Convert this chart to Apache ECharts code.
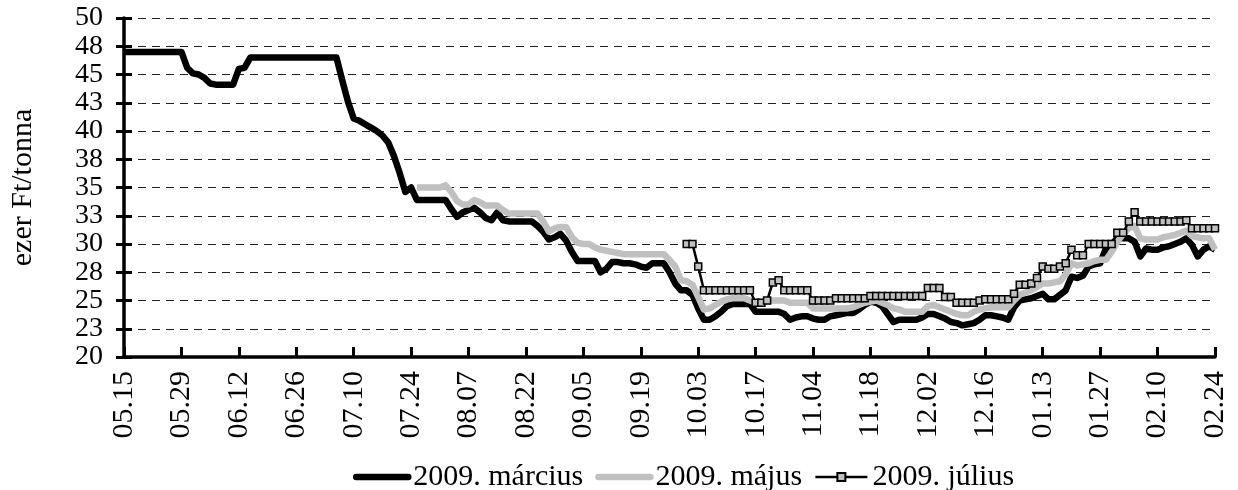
<!DOCTYPE html>
<html>
<head>
<meta charset="utf-8">
<script src="https://cdn.jsdelivr.net/npm/echarts@6/dist/echarts.min.js"></script>
<style>
  html, body { margin: 0; padding: 0; background: #fff; }
  #chart { width: 1238px; height: 490px; }
</style>
</head>
<body>
<div id="chart"></div>
<script>
// tőzsdei napok (kategóriák), minden 10. napnál felirat
const tickLabels = ["05.15", "05.29", "06.12", "06.26", "07.10", "07.24", "08.07", "08.22", "09.05", "09.19",
  "10.03", "10.17", "11.04", "11.18", "12.02", "12.16", "01.13", "01.27", "02.10", "02.24"];
const dayCount = 191;

const seriesNames = ["2009. március", "2009. május", "2009. július"];

// 2009. március (minden napra)
const marciusData = [
  47.0, 47.0, 47.0, 47.0, 47.0, 47.0, 47.0, 47.0, 47.0, 47.0,
  47.0, 45.6, 45.1, 45.0, 44.7, 44.2, 44.1, 44.1, 44.1, 44.1,
  45.5, 45.6, 46.5, 46.5, 46.5, 46.5, 46.5, 46.5, 46.5, 46.5,
  46.5, 46.5, 46.5, 46.5, 46.5, 46.5, 46.5, 46.5, 44.5, 42.6,
  41.1, 40.9, 40.6, 40.3, 40.0, 39.6, 39.0, 37.8, 36.3, 34.6,
  35.0, 33.9, 33.9, 33.9, 33.9, 33.9, 33.9, 33.1, 32.4, 32.8,
  33.0, 33.2, 32.8, 32.3, 32.1, 32.8, 32.1, 32.0, 32.0, 32.0,
  32.0, 32.0, 31.6, 31.1, 30.4, 30.6, 30.9, 30.3, 29.3, 28.5,
  28.5, 28.5, 28.5, 27.5, 27.8, 28.4, 28.4, 28.3, 28.3, 28.2,
  28.0, 27.9, 28.3, 28.3, 28.3, 27.5, 26.5, 25.9, 25.9, 25.5,
  24.3, 23.3, 23.3, 23.6, 24.0, 24.5, 24.7, 24.7, 24.7, 24.7,
  24.0, 24.0, 24.0, 24.0, 24.0, 23.8, 23.3, 23.5, 23.6, 23.6,
  23.4, 23.3, 23.3, 23.6, 23.7, 23.8, 23.9, 23.9, 24.2, 24.6,
  24.9, 24.8, 24.5, 23.8, 23.1, 23.3, 23.3, 23.3, 23.3, 23.5,
  23.8, 23.8, 23.6, 23.4, 23.1, 23.0, 22.8, 22.9, 23.0, 23.3,
  23.7, 23.7, 23.6, 23.5, 23.3, 24.4, 25.0, 25.1, 25.2, 25.4,
  25.6, 25.1, 25.1, 25.5, 25.9, 27.1, 27.0, 27.2, 28.0, 28.2,
  28.3, 29.6, 30.0, 30.5, 30.5, 30.5, 30.2, 28.9, 29.6, 29.5,
  29.5, 29.7, 29.8, 30.0, 30.2, 30.5, 29.9, 28.9, 29.5, 29.8,
  29.5
];

// 2009. május (az 51. naptól)
const majusStart = 51;
const majusData = [
  35.0, 35.0, 35.0, 35.0, 35.0, 35.2, 34.6, 33.8, 33.5,
  33.5, 33.9, 33.7, 33.4, 33.4, 33.4, 33.0, 32.7, 32.7, 32.7,
  32.7, 32.7, 32.7, 32.0, 31.1, 31.4, 31.5, 31.5, 30.6, 30.1,
  30.0, 30.0, 29.7, 29.5, 29.4, 29.3, 29.2, 29.1, 29.1, 29.1,
  29.1, 29.1, 29.1, 29.1, 29.1, 28.6, 28.0, 26.8, 26.7, 26.4,
  25.3, 24.2, 24.3, 24.6, 24.9, 25.1, 25.2, 25.2, 25.2, 25.0,
  24.8, 24.8, 24.9, 25.0, 25.0, 25.0, 24.8, 24.8, 24.8, 24.8,
  24.3, 24.3, 24.3, 24.3, 24.3, 24.3, 24.3, 24.4, 24.6, 24.8,
  24.9, 25.0, 24.8, 24.6, 24.3, 24.2, 24.0, 24.0, 24.0, 24.0,
  24.5, 24.6, 24.4, 24.2, 24.0, 23.8, 23.7, 23.7, 24.0, 24.2,
  24.3, 24.4, 24.4, 24.4, 24.4, 25.0, 25.5, 25.7, 25.9, 26.2,
  26.5, 26.5, 26.6, 26.7, 27.3, 28.3, 28.1, 28.2, 28.3, 28.5,
  28.6, 28.6, 29.3, 30.2, 30.9, 31.4, 31.6, 30.5, 30.4, 30.4,
  30.4, 30.6, 30.7, 30.8, 31.0, 31.2, 30.7, 30.6, 30.5, 30.5,
  29.5
];

// 2009. július (a 98. naptól)
const juliusStart = 98;
const juliusData = [
  30.0, 30.0,
  28.0, 25.9, 25.9, 25.9, 25.9, 25.9, 25.9, 25.9, 25.9, 25.9,
  24.8, 24.8, 25.0, 26.6, 26.8, 25.9, 25.9, 25.9, 25.9, 25.9,
  25.0, 25.0, 25.0, 25.0, 25.2, 25.2, 25.2, 25.2, 25.2, 25.2,
  25.4, 25.4, 25.4, 25.4, 25.4, 25.4, 25.4, 25.4, 25.4, 25.4,
  26.1, 26.1, 26.1, 25.3, 25.3, 24.8, 24.8, 24.8, 24.8, 25.0,
  25.1, 25.1, 25.1, 25.1, 25.1, 25.6, 26.4, 26.4, 26.5, 27.0,
  28.0, 27.8, 27.8, 28.0, 28.3, 29.5, 29.0, 29.0, 30.0, 30.0,
  30.0, 30.0, 30.0, 31.0, 31.0, 32.0, 32.8, 32.0, 32.0, 32.0,
  32.0, 32.0, 32.0, 32.0, 32.0, 32.1, 31.4, 31.4, 31.4, 31.4,
  31.4
];

const font = "'Liberation Serif', 'Times New Roman', serif";

const days = [];
for (let i = 0; i < dayCount; i++) days.push(i);

function padFrom(start, arr) {
  return new Array(start).fill(null).concat(arr);
}

const chart = echarts.init(document.getElementById("chart"));

const yCommon = {
  type: "value",
  min: 20,
  max: 50,
  interval: 2.5,
};

const option = {
  backgroundColor: "#ffffff",
  animation: false,
  textStyle: { fontFamily: font, color: "#000" },
  grid: { left: 119, right: 23, top: 18, bottom: 133, containLabel: false },
  legend: {
    top: 457,
    left: 348,
    itemWidth: 52,
    itemHeight: 10,
    itemGap: 12,
    textStyle: { fontFamily: font, fontSize: 30, color: "#000" },
    data: [
      { name: seriesNames[0], itemStyle: { opacity: 0 }, lineStyle: { width: 6.5, cap: "round", color: "#000" } },
      { name: seriesNames[1], itemStyle: { opacity: 0 }, lineStyle: { width: 6.5, cap: "round", color: "#c0c0c0" } },
      { name: seriesNames[2], lineStyle: { width: 2.5, color: "#000" } },
    ],
  },
  xAxis: {
    type: "category",
    data: days,
    boundaryGap: false,
    axisLine: { lineStyle: { color: "#000", width: 3.5 } },
    axisTick: { inside: true, length: 10, interval: 9, lineStyle: { color: "#000", width: 3 } },
    axisLabel: {
      interval: 9,
      rotate: 90,
      margin: 14,
      fontFamily: font,
      fontSize: 30,
      color: "#000",
      formatter: (v, idx) => tickLabels[idx / 10] || "",
    },
    splitLine: { show: false },
  },
  yAxis: [
    {
      ...yCommon,
      name: "ezer Ft/tonna",
      nameLocation: "middle",
      nameRotate: 90,
      nameGap: 86,
      nameTextStyle: { fontFamily: font, fontSize: 30, color: "#000" },
      axisLine: { show: true, lineStyle: { color: "#000", width: 3.5 } },
      axisTick: { show: true, length: 8, lineStyle: { color: "#000", width: 3 } },
      axisLabel: {
        margin: 21,
        fontFamily: font,
        fontSize: 28,
        color: "#000",
        showMinLabel: true,
        showMaxLabel: true,
        formatter: (v) => String(Math.round(v)),
      },
      splitLine: { show: true, lineStyle: { color: "#222", width: 1, type: [8, 6] } },
    },
    {
      // belső osztásjelek (a tengelyt keresztező jelekhez)
      ...yCommon,
      position: "left",
      axisLine: { show: false },
      axisTick: { show: true, inside: true, length: 8, lineStyle: { color: "#000", width: 3 } },
      axisLabel: { show: false },
      splitLine: { show: false },
    },
  ],
  series: [
    {
      name: seriesNames[0],
      type: "line",
      data: marciusData,
      symbol: "none",
      itemStyle: { color: "#000" },
      lineStyle: { color: "#000", width: 6.5, join: "round" },
    },
    {
      name: seriesNames[1],
      type: "line",
      data: padFrom(majusStart, majusData),
      symbol: "none",
      itemStyle: { color: "#c0c0c0" },
      lineStyle: { color: "#c0c0c0", width: 6.5, join: "round" },
    },
    {
      name: seriesNames[2],
      type: "line",
      data: padFrom(juliusStart, juliusData),
      symbol: "rect",
      symbolSize: 7,
      showAllSymbol: true,
      itemStyle: { color: "#c0c0c0", borderColor: "#000", borderWidth: 1.5 },
      lineStyle: { color: "#000", width: 2.5, join: "round" },
    },
  ],
};

chart.setOption(option);
</script>
</body>
</html>
